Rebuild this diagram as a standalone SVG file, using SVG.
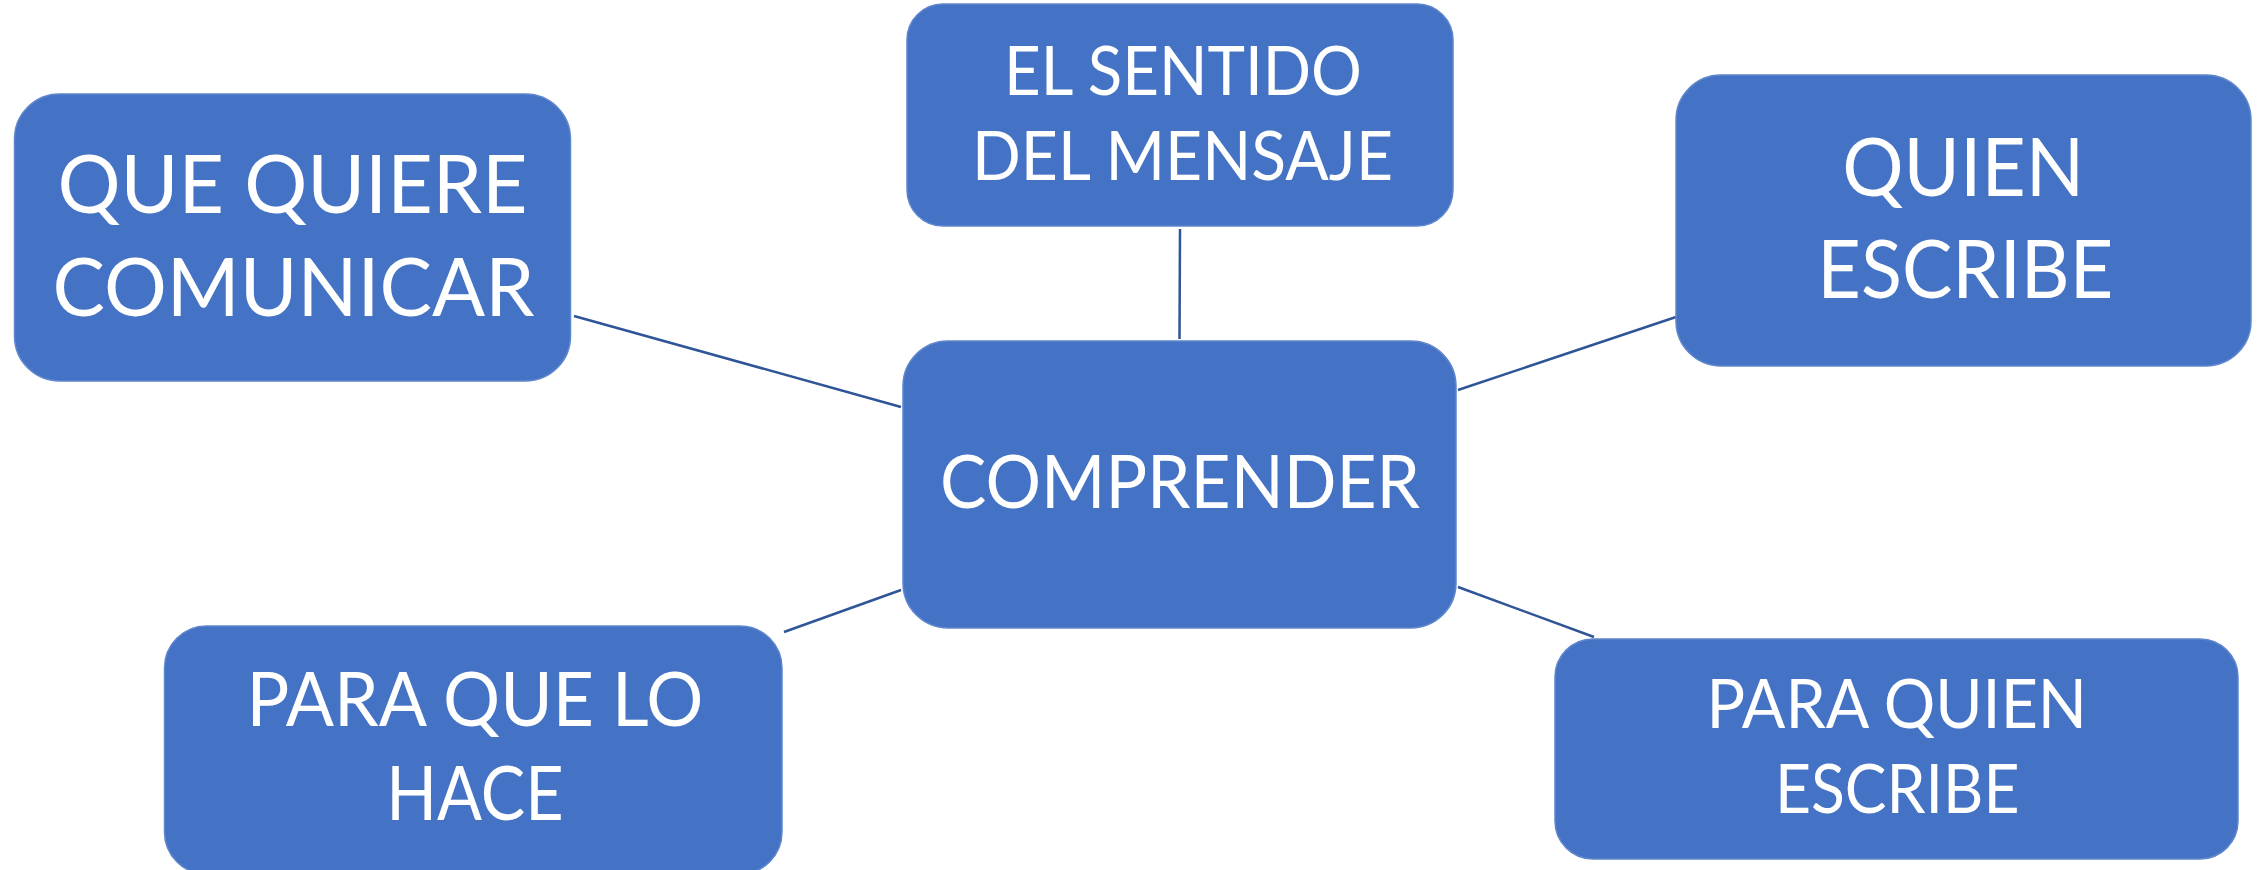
<svg xmlns="http://www.w3.org/2000/svg" width="2265" height="870" viewBox="0 0 2265 870">
<style>
.box{fill:#4472C4;stroke:#5F86CC;stroke-width:1.5}
.t{fill:#FFFFFF;font-family:Lato,"Open Sans","Liberation Sans",sans-serif;text-anchor:middle}
.c{stroke:#2F5597;stroke-width:2.5;fill:none}
</style>
<rect width="2265" height="870" fill="#FFFFFF"/>
<g id="connectors">
<line class="c" x1="1180" y1="229" x2="1179.5" y2="339"/>
<line class="c" x1="574" y1="316" x2="901" y2="407"/>
<line class="c" x1="1458" y1="390" x2="1676" y2="317"/>
<line class="c" x1="784" y1="632" x2="901" y2="590"/>
<line class="c" x1="1458" y1="587" x2="1594" y2="637"/>
</g>
<g id="node-que-quiere-comunicar">
<rect class="box" x="14.5" y="94" width="556" height="287" rx="45"/>
<text class="t" x="292.5" y="212.7" font-size="82" textLength="470" lengthAdjust="spacingAndGlyphs">QUE QUIERE</text>
<text class="t" x="293.5" y="315.7" font-size="82" textLength="482" lengthAdjust="spacingAndGlyphs">COMUNICAR</text>
</g>
<g id="node-el-sentido">
<rect class="box" x="907" y="4" width="546" height="222" rx="36"/>
<text class="t" x="1183" y="95" font-size="68.5" textLength="358" lengthAdjust="spacingAndGlyphs">EL SENTIDO</text>
<text class="t" x="1182.5" y="180" font-size="68.5" textLength="421" lengthAdjust="spacingAndGlyphs">DEL MENSAJE</text>
</g>
<g id="node-comprender">
<rect class="box" x="903" y="341" width="553" height="287" rx="45"/>
<text class="t" x="1180" y="508.3" font-size="73" textLength="480" lengthAdjust="spacingAndGlyphs">COMPRENDER</text>
</g>
<g id="node-quien-escribe">
<rect class="box" x="1676" y="75" width="575" height="291" rx="45"/>
<text class="t" x="1963.2" y="195.7" font-size="82" textLength="242" lengthAdjust="spacingAndGlyphs">QUIEN</text>
<text class="t" x="1965.3" y="298.3" font-size="82" textLength="296" lengthAdjust="spacingAndGlyphs">ESCRIBE</text>
</g>
<g id="node-para-que-lo-hace">
<rect class="box" x="164.5" y="626" width="617.5" height="248" rx="42"/>
<text class="t" x="475" y="726" font-size="75.5" textLength="457" lengthAdjust="spacingAndGlyphs">PARA QUE LO</text>
<text class="t" x="475" y="820" font-size="75.5" textLength="177.5" lengthAdjust="spacingAndGlyphs">HACE</text>
</g>
<g id="node-para-quien-escribe">
<rect class="box" x="1555" y="639" width="683" height="220" rx="38"/>
<text class="t" x="1896.7" y="728.3" font-size="67.5" textLength="380.6" lengthAdjust="spacingAndGlyphs">PARA QUIEN</text>
<text class="t" x="1897.2" y="813.3" font-size="67.5" textLength="244.5" lengthAdjust="spacingAndGlyphs">ESCRIBE</text>
</g>
</svg>
